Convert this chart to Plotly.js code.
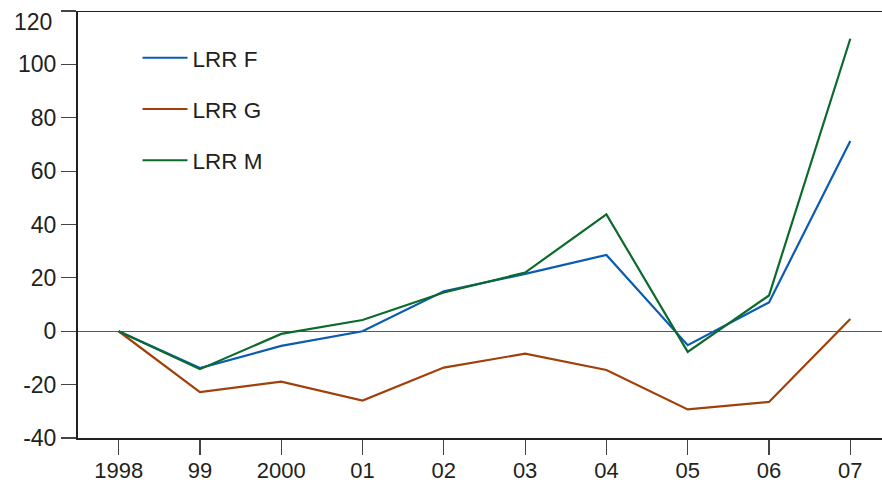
<!DOCTYPE html>
<html>
<head>
<meta charset="utf-8">
<script src="https://cdn.plot.ly/plotly-3.0.1.min.js"></script>
<style>html,body{margin:0;padding:0;background:#fff;}#chart{width:882px;height:485px;}</style>
</head>
<body>
<div id="chart"></div>
<script>
var years = [1998, 1999, 2000, 2001, 2002, 2003, 2004, 2005, 2006, 2007];
var tickLabels = ["1998", "99", "2000", "01", "02", "03", "04", "05", "06", "07"];
var yTicks = [-40, -20, 0, 20, 40, 60, 80, 100, 120];
var yTickLabels = ["-40", "-20", "0", "20", "40", "60", "80", "100", ""];
var topLabel = "120";
var lrrF = [0, -13.8, -5.5, 0, 15, 21.5, 28.6, -5.2, 10.8, 71.3];
var lrrG = [0, -22.8, -18.9, -26, -13.6, -8.4, -14.5, -29.3, -26.5, 4.6];
var lrrM = [0, -14.2, -1, 4.2, 14.5, 22, 43.8, -7.7, 13.4, 109.6];
var seriesNames = ["LRR F", "LRR G", "LRR M"];
var seriesColors = ["#0a5cb0", "#a0400a", "#0b6a2c"];
var seriesData = [lrrF, lrrG, lrrM];

var font = "Liberation Sans, Arial, Helvetica, sans-serif";
var traces = seriesData.map(function (d, i) {
  return {
    x: years, y: d, type: "scatter", mode: "lines",
    name: seriesNames[i], legendgroup: "g" + i,
    line: {color: seriesColors[i], width: 2.2}
  };
});

var layout = {
  width: 882, height: 485,
  margin: {l: 78, r: 0, t: 11, b: 47},
  paper_bgcolor: "#fff", plot_bgcolor: "#fff",
  font: {family: font, size: 23, color: "#231f20"},
  showlegend: true,
  legend: {x: 0.074, y: 0.94, xanchor: "left", yanchor: "top",
           bgcolor: "rgba(0,0,0,0)", borderwidth: 0, itemwidth: 45,
           font: {family: font, size: 22.5, color: "#231f20"},
           tracegroupgap: 19},
  xaxis: {
    range: [1997.5, 2007.39], tickvals: years, ticktext: tickLabels,
    showgrid: false, zeroline: false, showline: true, linecolor: "#231f20", linewidth: 2,
    ticks: "outside", ticklen: 15, tickwidth: 1.2, tickcolor: "#444",
    ticklabelstandoff: -3,
    tickfont: {family: font, size: 22, color: "#231f20"}
  },
  yaxis: {
    range: [-40, 120], tickvals: yTicks, ticktext: yTickLabels,
    showgrid: false, zeroline: true, zerolinecolor: "#5a5a5a", zerolinewidth: 1.5,
    showline: true, linecolor: "#231f20", linewidth: 2,
    ticks: "outside", ticklen: 15, tickwidth: 1.2, tickcolor: "#444",
    tickfont: {family: font, size: 23, color: "#231f20"}
  },
  annotations: [{xref: "paper", yref: "y", x: 0, y: 120, text: topLabel, showarrow: false,
                 xanchor: "right", yanchor: "top", xshift: -24, yshift: 4,
                 font: {family: font, size: 23, color: "#231f20"}}],
  shapes: [{type: "line", xref: "paper", yref: "y", x0: 0, x1: 1, y0: 120, y1: 120,
            line: {color: "#231f20", width: 2}}]
};
Plotly.newPlot("chart", traces, layout, {displayModeBar: false, staticPlot: true});
</script>
</body>
</html>
